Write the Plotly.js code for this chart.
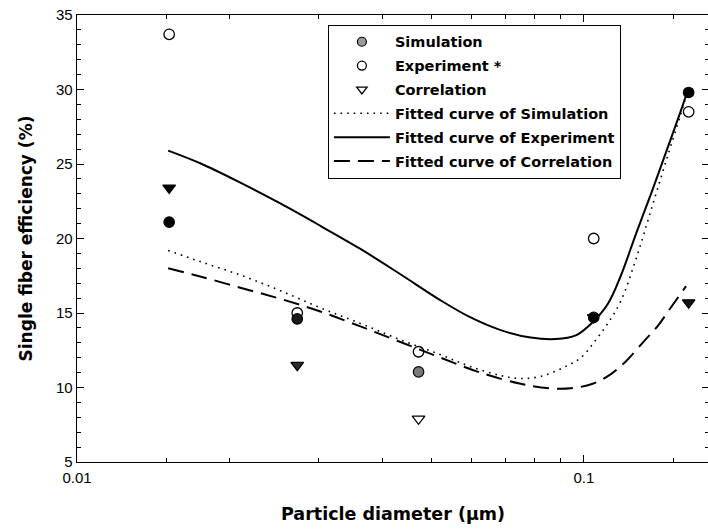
<!DOCTYPE html>
<html>
<head>
<meta charset="utf-8">
<script src="https://cdn.plot.ly/plotly-3.0.1.min.js"></script>
<style>html,body{margin:0;padding:0;overflow:hidden;background:#fff;}#chart{width:709px;height:530px;}</style>
</head>
<body>
<div id="chart"></div>
<script>
// Measured data
const diameters = [0.0152, 0.0272, 0.0472, 0.1046, 0.161];
const simulation = [21.1, 14.6, 11.05, 14.7, 29.8];
const experiment = [33.7, 15.0, 12.4, 20.0, 28.5];
const correlation = [23.4, 11.5, 7.9, 14.7, 15.7];
const simColors = ['#000000', '#1a1a1a', '#7a7a7a', '#111111', '#000000'];
const corrColors = ['#000000', '#2a2a2a', '#ffffff', '#000000', '#111111'];

// Fitted curves
const fitSimX = [0.01513, 0.01750, 0.02100, 0.02519, 0.03021, 0.03624, 0.04347, 0.05217, 0.05980, 0.06855, 0.07506, 0.08222, 0.09130, 0.09865, 0.1056, 0.1115, 0.1183, 0.1267, 0.1357, 0.1453, 0.1555, 0.1598];
const fitSimY = [19.2, 18.45, 17.55, 16.5, 15.35, 14.3, 13.2, 12.2, 11.4, 10.8, 10.6, 10.75, 11.35, 12.0, 13.2, 14.3, 15.8, 18.6, 21.9, 25.2, 28.4, 29.8];
const fitExpX = [0.01513, 0.01750, 0.02100, 0.02519, 0.03021, 0.03624, 0.04347, 0.05217, 0.05980, 0.06855, 0.07857, 0.08802, 0.09643, 0.1042, 0.1115, 0.1183, 0.1267, 0.1357, 0.1453, 0.1555, 0.1598];
const fitExpY = [25.9, 25.05, 23.75, 22.35, 20.85, 19.3, 17.6, 15.85, 14.7, 13.85, 13.35, 13.25, 13.5, 14.4, 15.6, 17.5, 20.3, 23.0, 25.8, 28.6, 29.8];
const fitCorX = [0.01513, 0.01750, 0.02100, 0.02519, 0.03021, 0.03624, 0.04347, 0.05217, 0.06251, 0.07506, 0.08542, 0.09426, 0.1041, 0.1131, 0.1210, 0.1314, 0.1401, 0.1466, 0.1591];
const fitCorY = [18.0, 17.45, 16.7, 15.95, 15.1, 14.1, 13.05, 12.0, 11.0, 10.25, 9.95, 9.95, 10.25, 10.9, 11.75, 13.1, 14.15, 15.1, 16.8];

const xMajor = [0.01, 0.1];
const xMajorText = ['0.01', '0.1'];
const xMinor = [0.015, 0.02, 0.03, 0.04, 0.05, 0.06, 0.07, 0.08, 0.09, 0.15];

const FONT = 'Liberation Sans, Arial, sans-serif';
const BOLDFONT = 'DejaVu Sans, Liberation Sans, Arial, sans-serif';

const traces = [
  {x: diameters, y: experiment, mode: 'markers', type: 'scatter', name: 'Experiment *', showlegend: false,
   marker: {symbol: 'circle', size: 10.5, color: 'rgba(0,0,0,0)', line: {color: '#000', width: 1.3}}},
  {x: diameters, y: simulation, mode: 'markers', type: 'scatter', name: 'Simulation', showlegend: false,
   marker: {symbol: 'circle', size: 10.5, color: simColors, line: {color: '#000', width: 1.2}}},
  {x: diameters, y: correlation, mode: 'markers', type: 'scatter', name: 'Correlation', showlegend: false,
   marker: {symbol: 'triangle-down', size: 11, color: corrColors, line: {color: '#000', width: 1.3}}},
  // legend entries
  {x: [null], y: [null], mode: 'markers', type: 'scatter', name: 'Simulation', legendgroup: 'a',
   marker: {symbol: 'circle', size: 9, color: '#9a9a9a', line: {color: '#000', width: 1.2}}},
  {x: [null], y: [null], mode: 'markers', type: 'scatter', name: 'Experiment *', legendgroup: 'b',
   marker: {symbol: 'circle', size: 9, color: '#fff', line: {color: '#000', width: 1.3}}},
  {x: [null], y: [null], mode: 'markers', type: 'scatter', name: 'Correlation', legendgroup: 'c',
   marker: {symbol: 'triangle-down', size: 9, color: '#fff', line: {color: '#000', width: 1.3}}},
  {x: fitSimX, y: fitSimY, mode: 'lines', type: 'scatter', name: 'Fitted curve of Simulation', legendgroup: 'd',
   line: {color: '#000', width: 1.6, dash: '1.6px,5px', shape: 'spline', smoothing: 1}},
  {x: fitExpX, y: fitExpY, mode: 'lines', type: 'scatter', name: 'Fitted curve of Experiment', legendgroup: 'e',
   line: {color: '#000', width: 2, shape: 'spline', smoothing: 1}},
  {x: fitCorX, y: fitCorY, mode: 'lines', type: 'scatter', name: 'Fitted curve of Correlation', legendgroup: 'f',
   line: {color: '#000', width: 2, dash: '16px,8px', shape: 'spline', smoothing: 1}}
];

const layout = {
  width: 709, height: 530,
  margin: {l: 77, r: 0, t: 15, b: 68},
  paper_bgcolor: '#fff', plot_bgcolor: '#fff',
  font: {family: FONT, color: '#000', size: 15},
  showlegend: true,
  legend: {
    x: 0.397, y: 0.978, xanchor: 'left', yanchor: 'top',
    bordercolor: '#000', borderwidth: 1, bgcolor: '#fff',
    font: {family: BOLDFONT, size: 14.5, color: '#000', weight: 'bold'},
    traceorder: 'grouped', tracegroupgap: 2, itemwidth: 56
  },
  xaxis: {
    type: 'log', range: [-2, -0.753],
    tickmode: 'array', tickvals: xMajor, ticktext: xMajorText,
    ticks: 'inside', ticklen: 7, tickwidth: 1, tickcolor: '#000',
    showline: true, linecolor: '#000', linewidth: 1.3, mirror: 'ticks',
    showgrid: false, zeroline: false, ticklabelstandoff: 2,
    tickfont: {family: FONT, size: 15, color: '#000'},
    minor: {tickmode: 'array', tickvals: xMinor, ticks: 'inside', ticklen: 4, tickcolor: '#000', showgrid: false},
    title: {text: 'Particle diameter (µm)', font: {family: BOLDFONT, size: 17.5, color: '#000', weight: 'bold'}, standoff: 22}
  },
  yaxis: {
    range: [5, 35], tickmode: 'linear', tick0: 5, dtick: 5,
    ticks: 'inside', ticklen: 7, tickwidth: 1, tickcolor: '#000',
    showline: true, linecolor: '#000', linewidth: 1.3, mirror: 'ticks',
    showgrid: false, zeroline: false,
    tickfont: {family: FONT, size: 15, color: '#000'},
    minor: {dtick: 1, ticks: 'inside', ticklen: 4, tickcolor: '#000', showgrid: false},
    title: {text: 'Single fiber efficiency (%)', font: {family: BOLDFONT, size: 17, color: '#000', weight: 'bold'}, standoff: 19}
  }
};

Plotly.newPlot('chart', traces, layout, {displayModeBar: false, staticPlot: true});
</script>
</body>
</html>
